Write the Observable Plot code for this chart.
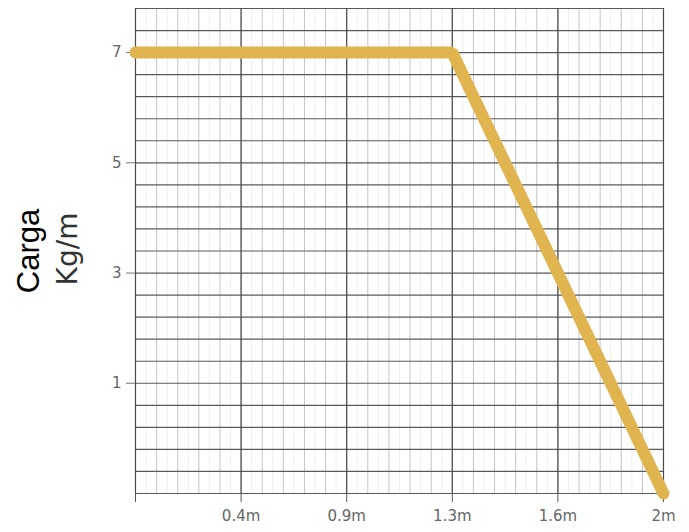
<!DOCTYPE html>
<html>
<head>
<meta charset="utf-8">
<script src="https://cdn.jsdelivr.net/npm/d3@7"></script>
<script src="https://cdn.jsdelivr.net/npm/@observablehq/plot@0.6"></script>
<style>
  html, body { margin: 0; padding: 0; background: #fff; }
  #chart svg { display: block; }
</style>
</head>
<body>
<div id="chart"></div>
<script>
// Data
const positions = [0, 1, 2, 3, 4, 5];               // evenly spaced x slots
const xTickLabels = ["", "0.4m", "0.9m", "1.3m", "1.6m", "2m"];
const loads = [7, 7, 7, 7, 3, -1];                   // Carga (Kg/m)
const yTickValues = [1, 3, 5, 7];
const titleLine1 = "Carga";
const titleLine2 = "Kg/m";

const yMin = -1, yMax = 7.8;
const data = positions.map((p, i) => ({pos: p, load: loads[i]}));

const hGrid = d3.range(0, 23).map(k => yMin + k * 0.4);
const vMinor = d3.range(0, 26).map(k => k / 5);
const vFaint = d3.range(0, 25).map(k => k / 5 + 0.1);

const chart = Plot.plot({
  width: 689,
  height: 532,
  marginLeft: 135,
  marginRight: 26,
  marginTop: 8,
  marginBottom: 39,
  style: {fontFamily: "DejaVu Sans", background: "#fff"},
  x: {domain: [0, 5]},
  y: {domain: [yMin, yMax]},
  marks: [
    Plot.ruleX(vFaint, {stroke: "#efefef", strokeWidth: 1}),
    Plot.ruleX(vMinor, {stroke: "#c4c4c4", strokeWidth: 1}),
    Plot.ruleY(hGrid, {stroke: "#5a5a5a", strokeWidth: 1.2}),
    Plot.ruleX(positions, {stroke: "#4a4a4a", strokeWidth: 1.2}),
    Plot.axisX(positions, {
      tickSize: 9, tickPadding: 8, tickFormat: d => xTickLabels[d],
      fontSize: 15, fill: "#666", stroke: "#555", label: null
    }),
    Plot.axisY(yTickValues, {
      tickSize: 9, tickPadding: 5, tickFormat: d3.format("d"),
      fontSize: 15, fill: "#666", stroke: "#777", label: null
    }),
    Plot.line(data, {x: "pos", y: "load", stroke: "#e0b44e", strokeWidth: 12, strokeLinejoin: "miter"}),
    Plot.text([titleLine1], {
      frameAnchor: "left", textAnchor: "middle", rotate: -90, dx: -97, dy: 0, lineAnchor: "bottom",
      fontSize: 31, fontFamily: "Liberation Sans", fill: "#000"
    }),
    Plot.text([titleLine2], {
      frameAnchor: "left", textAnchor: "middle", rotate: -90, dx: -59, dy: -2, lineAnchor: "bottom",
      fontSize: 28, fontFamily: "DejaVu Sans", fill: "#333"
    })
  ]
});
document.getElementById("chart").appendChild(chart);
</script>
</body>
</html>
